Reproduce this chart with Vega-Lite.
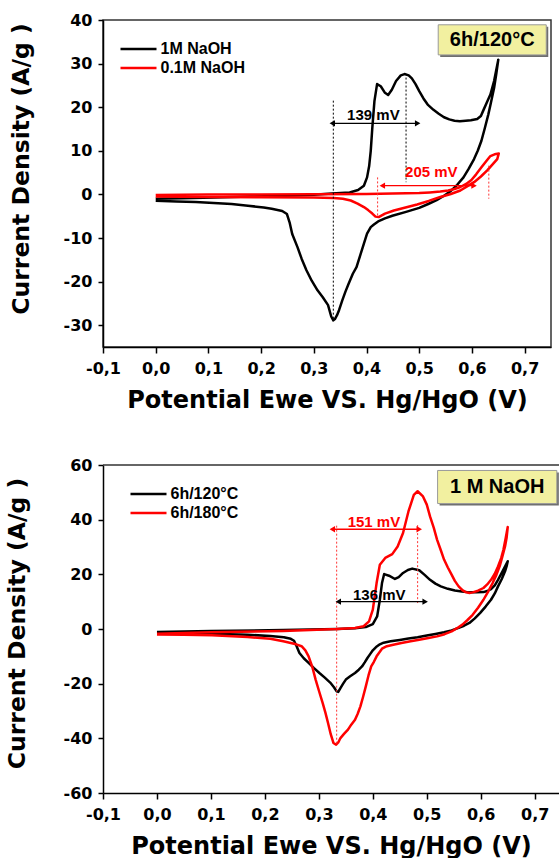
{
  "$schema": "https://vega.github.io/schema/vega-lite/v6.json",
  "background": "white",
  "padding": {"left": 5, "top": 11, "right": 0, "bottom": 0},
  "spacing": 44,
  "config": {
    "axis": {
      "labelFont": "DejaVu Sans", "labelFontWeight": "bold", "labelFontSize": 16, "labelColor": "#000",
      "titleFont": "DejaVu Sans", "titleFontWeight": "bold", "titleFontSize": 24, "titleColor": "#000",
      "domainColor": "#000", "domainWidth": 1.5, "tickColor": "#000", "tickWidth": 1.5,
      "grid": false, "labelOverlap": false, "labelFlush": false
    },
    "legend": {
      "orient": "none", "title": null, "symbolType": "M-4,0H4", "symbolSize": 81, "symbolStrokeWidth": 2.5,
      "labelFont": "Liberation Sans", "labelFontWeight": "bold", "labelFontSize": 16, "labelColor": "#000",
      "labelOffset": 14, "rowPadding": 3, "padding": 0
    },
    "view": {"stroke": "#333", "strokeWidth": 1.5}
  },
  "datasets": {
    "top": [
      {"s":"1M NaOH","x":0,"y":-1.0},{"s":"1M NaOH","x":0.05,"y":-0.9},{"s":"1M NaOH","x":0.11,"y":-0.7},{"s":"1M NaOH","x":0.18,"y":-0.5},{"s":"1M NaOH","x":0.246,"y":-0.3},{"s":"1M NaOH","x":0.30,"y":-0.1},{"s":"1M NaOH","x":0.334,"y":0.2},{"s":"1M NaOH","x":0.368,"y":0.45},{"s":"1M NaOH","x":0.384,"y":1.0},{"s":"1M NaOH","x":0.395,"y":2.0},{"s":"1M NaOH","x":0.401,"y":3.9},{"s":"1M NaOH","x":0.405,"y":6.5},{"s":"1M NaOH","x":0.408,"y":10},{"s":"1M NaOH","x":0.411,"y":15.3},{"s":"1M NaOH","x":0.415,"y":21.4},{"s":"1M NaOH","x":0.420,"y":25.3},{"s":"1M NaOH","x":0.427,"y":24.8},{"s":"1M NaOH","x":0.435,"y":23.3},{"s":"1M NaOH","x":0.441,"y":22.8},{"s":"1M NaOH","x":0.448,"y":24.0},{"s":"1M NaOH","x":0.456,"y":26.0},{"s":"1M NaOH","x":0.465,"y":27.3},{"s":"1M NaOH","x":0.472,"y":27.6},{"s":"1M NaOH","x":0.480,"y":27.3},{"s":"1M NaOH","x":0.486,"y":26.6},{"s":"1M NaOH","x":0.493,"y":25.3},{"s":"1M NaOH","x":0.500,"y":23.7},{"s":"1M NaOH","x":0.508,"y":22.0},{"s":"1M NaOH","x":0.516,"y":20.6},{"s":"1M NaOH","x":0.527,"y":19.4},{"s":"1M NaOH","x":0.537,"y":18.5},{"s":"1M NaOH","x":0.547,"y":17.7},{"s":"1M NaOH","x":0.557,"y":17.2},{"s":"1M NaOH","x":0.567,"y":16.9},{"s":"1M NaOH","x":0.577,"y":16.8},{"s":"1M NaOH","x":0.588,"y":16.9},{"s":"1M NaOH","x":0.598,"y":17.0},{"s":"1M NaOH","x":0.610,"y":17.3},{"s":"1M NaOH","x":0.617,"y":18.0},{"s":"1M NaOH","x":0.621,"y":19.1},{"s":"1M NaOH","x":0.628,"y":21.0},{"s":"1M NaOH","x":0.635,"y":22.9},{"s":"1M NaOH","x":0.642,"y":26.0},{"s":"1M NaOH","x":0.650,"y":30.9},
      {"s":"1M NaOH","x":0.646,"y":27.5},{"s":"1M NaOH","x":0.642,"y":24.4},{"s":"1M NaOH","x":0.636,"y":21.0},{"s":"1M NaOH","x":0.631,"y":18.3},{"s":"1M NaOH","x":0.624,"y":15.0},{"s":"1M NaOH","x":0.618,"y":12.3},{"s":"1M NaOH","x":0.611,"y":10.0},{"s":"1M NaOH","x":0.604,"y":8.1},{"s":"1M NaOH","x":0.594,"y":5.9},{"s":"1M NaOH","x":0.584,"y":3.9},{"s":"1M NaOH","x":0.572,"y":2.2},{"s":"1M NaOH","x":0.560,"y":0.8},{"s":"1M NaOH","x":0.547,"y":-0.3},{"s":"1M NaOH","x":0.533,"y":-1.3},{"s":"1M NaOH","x":0.517,"y":-2.2},{"s":"1M NaOH","x":0.500,"y":-3.1},{"s":"1M NaOH","x":0.475,"y":-4.0},{"s":"1M NaOH","x":0.449,"y":-4.9},{"s":"1M NaOH","x":0.435,"y":-5.5},{"s":"1M NaOH","x":0.422,"y":-6.2},{"s":"1M NaOH","x":0.414,"y":-6.9},{"s":"1M NaOH","x":0.408,"y":-7.5},{"s":"1M NaOH","x":0.401,"y":-9.0},{"s":"1M NaOH","x":0.395,"y":-11.3},{"s":"1M NaOH","x":0.388,"y":-14.0},{"s":"1M NaOH","x":0.381,"y":-16.7},{"s":"1M NaOH","x":0.374,"y":-18.2},{"s":"1M NaOH","x":0.366,"y":-20.5},{"s":"1M NaOH","x":0.360,"y":-22.3},{"s":"1M NaOH","x":0.354,"y":-24.3},{"s":"1M NaOH","x":0.348,"y":-26.5},{"s":"1M NaOH","x":0.344,"y":-27.7},{"s":"1M NaOH","x":0.340,"y":-28.6},{"s":"1M NaOH","x":0.337,"y":-28.9},{"s":"1M NaOH","x":0.333,"y":-28.0},{"s":"1M NaOH","x":0.327,"y":-25.4},{"s":"1M NaOH","x":0.317,"y":-23.6},{"s":"1M NaOH","x":0.307,"y":-22.0},{"s":"1M NaOH","x":0.296,"y":-19.8},{"s":"1M NaOH","x":0.286,"y":-17.4},{"s":"1M NaOH","x":0.277,"y":-14.8},{"s":"1M NaOH","x":0.269,"y":-12.1},{"s":"1M NaOH","x":0.259,"y":-9.1},{"s":"1M NaOH","x":0.254,"y":-6.4},{"s":"1M NaOH","x":0.249,"y":-4.5},{"s":"1M NaOH","x":0.240,"y":-3.8},{"s":"1M NaOH","x":0.220,"y":-3.3},{"s":"1M NaOH","x":0.205,"y":-3.0},{"s":"1M NaOH","x":0.175,"y":-2.6},{"s":"1M NaOH","x":0.144,"y":-2.2},{"s":"1M NaOH","x":0.110,"y":-1.95},{"s":"1M NaOH","x":0.076,"y":-1.75},{"s":"1M NaOH","x":0.040,"y":-1.6},{"s":"1M NaOH","x":0,"y":-1.45},
      {"s":"0.1M NaOH","x":0,"y":-0.15},{"s":"0.1M NaOH","x":0.1,"y":-0.05},{"s":"0.1M NaOH","x":0.2,"y":0.0},{"s":"0.1M NaOH","x":0.3,"y":0.05},{"s":"0.1M NaOH","x":0.4,"y":0.1},{"s":"0.1M NaOH","x":0.45,"y":0.2},{"s":"0.1M NaOH","x":0.5,"y":0.3},{"s":"0.1M NaOH","x":0.52,"y":0.45},{"s":"0.1M NaOH","x":0.54,"y":0.65},{"s":"0.1M NaOH","x":0.555,"y":0.9},{"s":"0.1M NaOH","x":0.567,"y":1.25},{"s":"0.1M NaOH","x":0.578,"y":1.7},{"s":"0.1M NaOH","x":0.589,"y":2.4},{"s":"0.1M NaOH","x":0.599,"y":3.3},{"s":"0.1M NaOH","x":0.608,"y":4.6},{"s":"0.1M NaOH","x":0.618,"y":6.2},{"s":"0.1M NaOH","x":0.627,"y":7.6},{"s":"0.1M NaOH","x":0.635,"y":8.8},{"s":"0.1M NaOH","x":0.643,"y":9.2},{"s":"0.1M NaOH","x":0.651,"y":9.4},
      {"s":"0.1M NaOH","x":0.648,"y":8.1},{"s":"0.1M NaOH","x":0.640,"y":7.0},{"s":"0.1M NaOH","x":0.629,"y":5.5},{"s":"0.1M NaOH","x":0.617,"y":4.1},{"s":"0.1M NaOH","x":0.604,"y":2.8},{"s":"0.1M NaOH","x":0.590,"y":1.8},{"s":"0.1M NaOH","x":0.578,"y":0.9},{"s":"0.1M NaOH","x":0.560,"y":0.1},{"s":"0.1M NaOH","x":0.540,"y":-0.6},{"s":"0.1M NaOH","x":0.518,"y":-1.5},{"s":"0.1M NaOH","x":0.496,"y":-2.3},{"s":"0.1M NaOH","x":0.474,"y":-3.0},{"s":"0.1M NaOH","x":0.452,"y":-3.7},{"s":"0.1M NaOH","x":0.435,"y":-4.4},{"s":"0.1M NaOH","x":0.423,"y":-5.2},{"s":"0.1M NaOH","x":0.417,"y":-5.1},{"s":"0.1M NaOH","x":0.411,"y":-4.4},{"s":"0.1M NaOH","x":0.403,"y":-3.6},{"s":"0.1M NaOH","x":0.395,"y":-2.9},{"s":"0.1M NaOH","x":0.383,"y":-2.1},{"s":"0.1M NaOH","x":0.370,"y":-1.4},{"s":"0.1M NaOH","x":0.355,"y":-1.0},{"s":"0.1M NaOH","x":0.338,"y":-0.8},{"s":"0.1M NaOH","x":0.30,"y":-0.7},{"s":"0.1M NaOH","x":0.2,"y":-0.65},{"s":"0.1M NaOH","x":0.1,"y":-0.6},{"s":"0.1M NaOH","x":0,"y":-0.5}
    ],
    "bot": [
      {"s":"6h/120°C","x":0,"y":-1.1},{"s":"6h/120°C","x":0.1,"y":-0.7},{"s":"6h/120°C","x":0.234,"y":-0.4},{"s":"6h/120°C","x":0.334,"y":0},{"s":"6h/120°C","x":0.367,"y":0.25},{"s":"6h/120°C","x":0.387,"y":0.7},{"s":"6h/120°C","x":0.400,"y":1.8},{"s":"6h/120°C","x":0.408,"y":4.6},{"s":"6h/120°C","x":0.413,"y":10.7},{"s":"6h/120°C","x":0.417,"y":16.8},{"s":"6h/120°C","x":0.421,"y":20.1},{"s":"6h/120°C","x":0.430,"y":19.5},{"s":"6h/120°C","x":0.441,"y":18.3},{"s":"6h/120°C","x":0.448,"y":19.0},{"s":"6h/120°C","x":0.456,"y":20.5},{"s":"6h/120°C","x":0.465,"y":21.6},{"s":"6h/120°C","x":0.473,"y":22.1},{"s":"6h/120°C","x":0.486,"y":21.5},{"s":"6h/120°C","x":0.496,"y":19.8},{"s":"6h/120°C","x":0.506,"y":18.0},{"s":"6h/120°C","x":0.516,"y":16.6},{"s":"6h/120°C","x":0.526,"y":15.6},{"s":"6h/120°C","x":0.539,"y":14.7},{"s":"6h/120°C","x":0.552,"y":14.1},{"s":"6h/120°C","x":0.565,"y":13.7},{"s":"6h/120°C","x":0.579,"y":13.4},{"s":"6h/120°C","x":0.592,"y":13.4},{"s":"6h/120°C","x":0.605,"y":13.5},{"s":"6h/120°C","x":0.612,"y":13.9},{"s":"6h/120°C","x":0.619,"y":14.6},{"s":"6h/120°C","x":0.626,"y":16.0},{"s":"6h/120°C","x":0.632,"y":18.0},{"s":"6h/120°C","x":0.642,"y":21.7},{"s":"6h/120°C","x":0.650,"y":24.8},
      {"s":"6h/120°C","x":0.648,"y":23.0},{"s":"6h/120°C","x":0.645,"y":21.1},{"s":"6h/120°C","x":0.639,"y":18.3},{"s":"6h/120°C","x":0.632,"y":15.6},{"s":"6h/120°C","x":0.626,"y":13.0},{"s":"6h/120°C","x":0.619,"y":10.7},{"s":"6h/120°C","x":0.609,"y":8.2},{"s":"6h/120°C","x":0.599,"y":5.9},{"s":"6h/120°C","x":0.589,"y":3.9},{"s":"6h/120°C","x":0.579,"y":2.2},{"s":"6h/120°C","x":0.569,"y":1.2},{"s":"6h/120°C","x":0.559,"y":0.4},{"s":"6h/120°C","x":0.546,"y":-0.5},{"s":"6h/120°C","x":0.532,"y":-1.2},{"s":"6h/120°C","x":0.516,"y":-1.8},{"s":"6h/120°C","x":0.500,"y":-2.4},{"s":"6h/120°C","x":0.483,"y":-3.0},{"s":"6h/120°C","x":0.466,"y":-3.5},{"s":"6h/120°C","x":0.450,"y":-4.0},{"s":"6h/120°C","x":0.433,"y":-4.5},{"s":"6h/120°C","x":0.420,"y":-5.0},{"s":"6h/120°C","x":0.413,"y":-5.6},{"s":"6h/120°C","x":0.406,"y":-6.6},{"s":"6h/120°C","x":0.400,"y":-7.8},{"s":"6h/120°C","x":0.395,"y":-9.2},{"s":"6h/120°C","x":0.390,"y":-10.6},{"s":"6h/120°C","x":0.385,"y":-12.2},{"s":"6h/120°C","x":0.380,"y":-13.7},{"s":"6h/120°C","x":0.374,"y":-14.9},{"s":"6h/120°C","x":0.367,"y":-16.1},{"s":"6h/120°C","x":0.358,"y":-17.3},{"s":"6h/120°C","x":0.350,"y":-18.5},{"s":"6h/120°C","x":0.345,"y":-20.0},{"s":"6h/120°C","x":0.340,"y":-21.6},{"s":"6h/120°C","x":0.336,"y":-23.0},{"s":"6h/120°C","x":0.333,"y":-22.8},{"s":"6h/120°C","x":0.328,"y":-21.3},{"s":"6h/120°C","x":0.321,"y":-19.6},{"s":"6h/120°C","x":0.311,"y":-17.8},{"s":"6h/120°C","x":0.301,"y":-16.1},{"s":"6h/120°C","x":0.291,"y":-14.3},{"s":"6h/120°C","x":0.281,"y":-12.4},{"s":"6h/120°C","x":0.272,"y":-10.7},{"s":"6h/120°C","x":0.264,"y":-8.8},{"s":"6h/120°C","x":0.259,"y":-6.4},{"s":"6h/120°C","x":0.254,"y":-4.3},{"s":"6h/120°C","x":0.248,"y":-3.6},{"s":"6h/120°C","x":0.235,"y":-3.0},{"s":"6h/120°C","x":0.210,"y":-2.6},{"s":"6h/120°C","x":0.168,"y":-2.1},{"s":"6h/120°C","x":0.102,"y":-1.7},{"s":"6h/120°C","x":0.05,"y":-1.45},{"s":"6h/120°C","x":0,"y":-1.2},
      {"s":"6h/180°C","x":0,"y":-1.7},{"s":"6h/180°C","x":0.1,"y":-1.2},{"s":"6h/180°C","x":0.234,"y":-0.7},{"s":"6h/180°C","x":0.334,"y":0},{"s":"6h/180°C","x":0.367,"y":0.4},{"s":"6h/180°C","x":0.383,"y":1.0},{"s":"6h/180°C","x":0.393,"y":2.8},{"s":"6h/180°C","x":0.400,"y":7.1},{"s":"6h/180°C","x":0.407,"y":16.8},{"s":"6h/180°C","x":0.413,"y":23.5},{"s":"6h/180°C","x":0.423,"y":26.0},{"s":"6h/180°C","x":0.436,"y":27.4},{"s":"6h/180°C","x":0.446,"y":30.2},{"s":"6h/180°C","x":0.456,"y":35.1},{"s":"6h/180°C","x":0.466,"y":43.0},{"s":"6h/180°C","x":0.476,"y":49.1},{"s":"6h/180°C","x":0.483,"y":50.4},{"s":"6h/180°C","x":0.493,"y":48.5},{"s":"6h/180°C","x":0.500,"y":45.5},{"s":"6h/180°C","x":0.506,"y":41.2},{"s":"6h/180°C","x":0.513,"y":37.0},{"s":"6h/180°C","x":0.519,"y":32.7},{"s":"6h/180°C","x":0.526,"y":28.8},{"s":"6h/180°C","x":0.532,"y":25.4},{"s":"6h/180°C","x":0.539,"y":22.5},{"s":"6h/180°C","x":0.546,"y":19.9},{"s":"6h/180°C","x":0.552,"y":17.6},{"s":"6h/180°C","x":0.559,"y":15.6},{"s":"6h/180°C","x":0.566,"y":14.2},{"s":"6h/180°C","x":0.572,"y":13.5},{"s":"6h/180°C","x":0.579,"y":13.2},{"s":"6h/180°C","x":0.585,"y":13.4},{"s":"6h/180°C","x":0.595,"y":14.0},{"s":"6h/180°C","x":0.605,"y":15.0},{"s":"6h/180°C","x":0.612,"y":16.3},{"s":"6h/180°C","x":0.619,"y":18.0},{"s":"6h/180°C","x":0.626,"y":20.2},{"s":"6h/180°C","x":0.632,"y":22.9},{"s":"6h/180°C","x":0.638,"y":26.0},{"s":"6h/180°C","x":0.642,"y":29.0},{"s":"6h/180°C","x":0.646,"y":33.0},{"s":"6h/180°C","x":0.650,"y":37.3},
      {"s":"6h/180°C","x":0.648,"y":33.5},{"s":"6h/180°C","x":0.645,"y":30.2},{"s":"6h/180°C","x":0.640,"y":26.5},{"s":"6h/180°C","x":0.635,"y":22.9},{"s":"6h/180°C","x":0.629,"y":19.8},{"s":"6h/180°C","x":0.622,"y":16.8},{"s":"6h/180°C","x":0.614,"y":13.8},{"s":"6h/180°C","x":0.605,"y":10.7},{"s":"6h/180°C","x":0.595,"y":7.8},{"s":"6h/180°C","x":0.585,"y":5.2},{"s":"6h/180°C","x":0.575,"y":3.2},{"s":"6h/180°C","x":0.566,"y":1.6},{"s":"6h/180°C","x":0.556,"y":0.3},{"s":"6h/180°C","x":0.546,"y":-0.9},{"s":"6h/180°C","x":0.533,"y":-1.9},{"s":"6h/180°C","x":0.519,"y":-2.7},{"s":"6h/180°C","x":0.503,"y":-3.3},{"s":"6h/180°C","x":0.486,"y":-3.9},{"s":"6h/180°C","x":0.470,"y":-4.5},{"s":"6h/180°C","x":0.453,"y":-5.1},{"s":"6h/180°C","x":0.440,"y":-5.7},{"s":"6h/180°C","x":0.426,"y":-6.3},{"s":"6h/180°C","x":0.417,"y":-7.2},{"s":"6h/180°C","x":0.407,"y":-10.0},{"s":"6h/180°C","x":0.402,"y":-12.0},{"s":"6h/180°C","x":0.397,"y":-13.7},{"s":"6h/180°C","x":0.392,"y":-17.0},{"s":"6h/180°C","x":0.387,"y":-21.0},{"s":"6h/180°C","x":0.382,"y":-24.8},{"s":"6h/180°C","x":0.377,"y":-28.3},{"s":"6h/180°C","x":0.372,"y":-31.0},{"s":"6h/180°C","x":0.367,"y":-33.2},{"s":"6h/180°C","x":0.360,"y":-35.0},{"s":"6h/180°C","x":0.354,"y":-36.8},{"s":"6h/180°C","x":0.347,"y":-38.3},{"s":"6h/180°C","x":0.340,"y":-39.9},{"s":"6h/180°C","x":0.336,"y":-41.5},{"s":"6h/180°C","x":0.332,"y":-42.3},{"s":"6h/180°C","x":0.327,"y":-41.7},{"s":"6h/180°C","x":0.322,"y":-38.5},{"s":"6h/180°C","x":0.317,"y":-34.4},{"s":"6h/180°C","x":0.312,"y":-30.5},{"s":"6h/180°C","x":0.307,"y":-27.0},{"s":"6h/180°C","x":0.300,"y":-22.5},{"s":"6h/180°C","x":0.294,"y":-18.5},{"s":"6h/180°C","x":0.288,"y":-14.0},{"s":"6h/180°C","x":0.281,"y":-10.0},{"s":"6h/180°C","x":0.275,"y":-7.8},{"s":"6h/180°C","x":0.268,"y":-6.3},{"s":"6h/180°C","x":0.258,"y":-5.6},{"s":"6h/180°C","x":0.246,"y":-5.0},{"s":"6h/180°C","x":0.234,"y":-4.5},{"s":"6h/180°C","x":0.210,"y":-3.6},{"s":"6h/180°C","x":0.168,"y":-2.9},{"s":"6h/180°C","x":0.102,"y":-2.3},{"s":"6h/180°C","x":0.05,"y":-2.1},{"s":"6h/180°C","x":0,"y":-2.0}
    ],
    "topDots": [
      {"x":0.337,"y1":21.5,"y2":-29,"c":"#000000"},
      {"x":0.475,"y1":26.8,"y2":2.8,"c":"#000000"},
      {"x":0.421,"y1":3.9,"y2":-5.2,"c":"#ff3333"},
      {"x":0.632,"y1":6.6,"y2":-1.0,"c":"#ff3333"}
    ],
    "topArrows": [
      {"x1":0.335,"x2":0.497,"y":16.3,"c":"#000000"},
      {"x1":0.430,"x2":0.604,"y":2.0,"c":"#ff0000"}
    ],
    "topText": [
      {"x":0.413,"y":18.2,"t":"139 mV","c":"#000000"},
      {"x":0.523,"y":5.1,"t":"205 mV","c":"#ff0000"}
    ],
    "topBox": [{"x1":0.536,"x2":0.741,"y1":38.9,"y2":32.0,"t":"6h/120°C"}],
    "botDots": [
      {"x":0.333,"y1":37.8,"y2":-42.7,"c":"#ff3333"},
      {"x":0.483,"y1":38.0,"y2":9.5,"c":"#ff3333"}
    ],
    "botArrows": [
      {"x1":0.325,"x2":0.486,"y":36.5,"c":"#ff0000"},
      {"x1":0.336,"x2":0.497,"y":10.0,"c":"#000000"}
    ],
    "botText": [
      {"x":0.402,"y":39.3,"t":"151 mV","c":"#ff0000"},
      {"x":0.412,"y":12.5,"t":"136 mV","c":"#000000"}
    ],
    "botBox": [{"x1":0.520,"x2":0.741,"y1":58.0,"y2":45.9,"t":"1 M NaOH"}]
  },
  "resolve": {"scale": {"x": "independent", "y": "independent", "color": "independent"}},
  "vconcat": [
    {
      "width": 448,
      "height": 327,
      "layer": [
        {
          "data": {"name": "top"},
          "mark": {"type": "line", "strokeWidth": 2.5, "strokeJoin": "round", "clip": true},
          "encoding": {
            "x": {"field": "x", "type": "quantitative", "title": "Potential Ewe VS. Hg/HgO (V)",
              "scale": {"domain": [-0.1, 0.75], "nice": false, "zero": false},
              "axis": {
                "values": [-0.1,-0.05,0,0.05,0.1,0.15,0.2,0.25,0.3,0.35,0.4,0.45,0.5,0.55,0.6,0.65,0.7,0.75],
                "labelExpr": "round(datum.value*20)%2==0 ? (datum.value < -0.001 ? '-' : '') + replace(format(abs(datum.value),'.1f'),'.',',') : ''",
                "tickSize": {"condition": {"test": "round(datum.value*20)%2==0", "value": 6}, "value": 3},
                "labelPadding": 7, "titlePadding": 12
              }},
            "y": {"field": "y", "type": "quantitative", "title": "Current Density (A/g )",
              "scale": {"domain": [-35, 40], "nice": false, "zero": false},
              "axis": {
                "values": [-30,-25,-20,-15,-10,-5,0,5,10,15,20,25,30,35,40],
                "labelExpr": "datum.value % 10 == 0 ? (datum.value < 0 ? '-' : '') + abs(datum.value) : ''",
                "tickSize": {"condition": {"test": "datum.value % 10 == 0", "value": 5}, "value": 3},
                "labelPadding": 6, "titleFontSize": 23.5, "titleY": 148.5, "titlePadding": 30
              }},
            "color": {"field": "s", "type": "nominal",
              "scale": {"domain": ["1M NaOH", "0.1M NaOH"], "range": ["#000000", "#ff0000"]},
              "legend": {"legendX": 27.5, "legendY": 21}},
            "order": {"value": null}
          }
        },
        {
          "data": {"name": "topDots"},
          "mark": {"type": "rule", "strokeWidth": 1, "strokeDash": [2, 2]},
          "encoding": {
            "x": {"field": "x", "type": "quantitative"},
            "y": {"field": "y1", "type": "quantitative"},
            "y2": {"field": "y2"},
            "color": {"field": "c", "type": "nominal", "scale": null}
          }
        },
        {
          "data": {"name": "topArrows"},
          "mark": {"type": "rule", "strokeWidth": 1.3},
          "encoding": {
            "x": {"field": "x1", "type": "quantitative"},
            "x2": {"field": "x2"},
            "y": {"field": "y", "type": "quantitative"},
            "color": {"field": "c", "type": "nominal", "scale": null}
          }
        },
        {
          "data": {"name": "topArrows"},
          "mark": {"type": "point", "shape": "triangle-left", "filled": true, "size": 40, "opacity": 1},
          "encoding": {
            "x": {"field": "x1", "type": "quantitative"},
            "y": {"field": "y", "type": "quantitative"},
            "color": {"field": "c", "type": "nominal", "scale": null}
          }
        },
        {
          "data": {"name": "topArrows"},
          "mark": {"type": "point", "shape": "triangle-right", "filled": true, "size": 40, "opacity": 1},
          "encoding": {
            "x": {"field": "x2", "type": "quantitative"},
            "y": {"field": "y", "type": "quantitative"},
            "color": {"field": "c", "type": "nominal", "scale": null}
          }
        },
        {
          "data": {"name": "topText"},
          "mark": {"type": "text", "font": "Liberation Sans", "fontWeight": "bold", "fontSize": 15, "align": "center", "baseline": "middle"},
          "encoding": {
            "x": {"field": "x", "type": "quantitative"},
            "y": {"field": "y", "type": "quantitative"},
            "text": {"field": "t"},
            "color": {"field": "c", "type": "nominal", "scale": null}
          }
        },
        {
          "data": {"name": "topBox"},
          "mark": {"type": "rect", "fill": "#6f6f6f", "xOffset": 2, "x2Offset": 2, "yOffset": 2, "y2Offset": 2},
          "encoding": {
            "x": {"field": "x1", "type": "quantitative"}, "x2": {"field": "x2"},
            "y": {"field": "y1", "type": "quantitative"}, "y2": {"field": "y2"}
          }
        },
        {
          "data": {"name": "topBox"},
          "mark": {"type": "rect", "fill": "#f2f0a0", "stroke": "#9a9a9a", "strokeWidth": 1},
          "encoding": {
            "x": {"field": "x1", "type": "quantitative"}, "x2": {"field": "x2"},
            "y": {"field": "y1", "type": "quantitative"}, "y2": {"field": "y2"}
          }
        },
        {
          "data": {"name": "topBox"},
          "transform": [{"calculate": "(datum.x1+datum.x2)/2", "as": "xc"}, {"calculate": "(datum.y1+datum.y2)/2", "as": "yc"}],
          "mark": {"type": "text", "font": "Liberation Sans", "fontWeight": "bold", "fontSize": 20, "align": "center", "baseline": "middle", "color": "#000"},
          "encoding": {
            "x": {"field": "xc", "type": "quantitative"},
            "y": {"field": "yc", "type": "quantitative"},
            "text": {"field": "t"}
          }
        }
      ]
    },
    {
      "width": 456,
      "height": 328,
      "view": {"stroke": null},
      "layer": [
        {
          "data": {"name": "bot"},
          "mark": {"type": "line", "strokeWidth": 2.5, "strokeJoin": "round", "clip": true},
          "encoding": {
            "x": {"field": "x", "type": "quantitative", "title": "Potential Ewe VS. Hg/HgO (V)",
              "scale": {"domain": [-0.1, 0.745], "nice": false, "zero": false},
              "axis": {
                "values": [-0.1,-0.05,0,0.05,0.1,0.15,0.2,0.25,0.3,0.35,0.4,0.45,0.5,0.55,0.6,0.65,0.7],
                "labelExpr": "round(datum.value*20)%2==0 ? (datum.value < -0.001 ? '-' : '') + replace(format(abs(datum.value),'.1f'),'.',',') : ''",
                "tickSize": {"condition": {"test": "round(datum.value*20)%2==0", "value": 6}, "value": 3},
                "labelPadding": 7, "titlePadding": 12
              }},
            "y": {"field": "y", "type": "quantitative", "title": "Current Density (A/g )",
              "scale": {"domain": [-60, 60], "nice": false, "zero": false},
              "axis": {
                "values": [-60,-50,-40,-30,-20,-10,0,10,20,30,40,50,60],
                "labelExpr": "datum.value % 20 == 0 ? (datum.value < 0 ? '-' : '') + abs(datum.value) : ''",
                "tickSize": {"condition": {"test": "datum.value % 20 == 0", "value": 5}, "value": 3},
                "labelPadding": 6, "titleFontSize": 23.5, "titleY": 158, "titlePadding": 34
              }},
            "color": {"field": "s", "type": "nominal",
              "scale": {"domain": ["6h/120°C", "6h/180°C"], "range": ["#000000", "#ff0000"]},
              "legend": {"legendX": 37.5, "legendY": 21}},
            "order": {"value": null}
          }
        },
        {
          "data": {"values": [{"x1": -0.1, "x2": 0.745, "y": 60}]},
          "mark": {"type": "rule", "color": "#333", "strokeWidth": 1.5},
          "encoding": {
            "x": {"field": "x1", "type": "quantitative"}, "x2": {"field": "x2"},
            "y": {"field": "y", "type": "quantitative"}
          }
        },
        {
          "data": {"name": "botDots"},
          "mark": {"type": "rule", "strokeWidth": 1, "strokeDash": [2, 2]},
          "encoding": {
            "x": {"field": "x", "type": "quantitative"},
            "y": {"field": "y1", "type": "quantitative"},
            "y2": {"field": "y2"},
            "color": {"field": "c", "type": "nominal", "scale": null}
          }
        },
        {
          "data": {"name": "botArrows"},
          "mark": {"type": "rule", "strokeWidth": 1.3},
          "encoding": {
            "x": {"field": "x1", "type": "quantitative"},
            "x2": {"field": "x2"},
            "y": {"field": "y", "type": "quantitative"},
            "color": {"field": "c", "type": "nominal", "scale": null}
          }
        },
        {
          "data": {"name": "botArrows"},
          "mark": {"type": "point", "shape": "triangle-left", "filled": true, "size": 40, "opacity": 1},
          "encoding": {
            "x": {"field": "x1", "type": "quantitative"},
            "y": {"field": "y", "type": "quantitative"},
            "color": {"field": "c", "type": "nominal", "scale": null}
          }
        },
        {
          "data": {"name": "botArrows"},
          "mark": {"type": "point", "shape": "triangle-right", "filled": true, "size": 40, "opacity": 1},
          "encoding": {
            "x": {"field": "x2", "type": "quantitative"},
            "y": {"field": "y", "type": "quantitative"},
            "color": {"field": "c", "type": "nominal", "scale": null}
          }
        },
        {
          "data": {"name": "botText"},
          "mark": {"type": "text", "font": "Liberation Sans", "fontWeight": "bold", "fontSize": 15, "align": "center", "baseline": "middle"},
          "encoding": {
            "x": {"field": "x", "type": "quantitative"},
            "y": {"field": "y", "type": "quantitative"},
            "text": {"field": "t"},
            "color": {"field": "c", "type": "nominal", "scale": null}
          }
        },
        {
          "data": {"name": "botBox"},
          "mark": {"type": "rect", "fill": "#6f6f6f", "xOffset": 2, "x2Offset": 2, "yOffset": 2, "y2Offset": 2},
          "encoding": {
            "x": {"field": "x1", "type": "quantitative"}, "x2": {"field": "x2"},
            "y": {"field": "y1", "type": "quantitative"}, "y2": {"field": "y2"}
          }
        },
        {
          "data": {"name": "botBox"},
          "mark": {"type": "rect", "fill": "#f2f0a0", "stroke": "#9a9a9a", "strokeWidth": 1},
          "encoding": {
            "x": {"field": "x1", "type": "quantitative"}, "x2": {"field": "x2"},
            "y": {"field": "y1", "type": "quantitative"}, "y2": {"field": "y2"}
          }
        },
        {
          "data": {"name": "botBox"},
          "transform": [{"calculate": "(datum.x1+datum.x2)/2", "as": "xc"}, {"calculate": "(datum.y1+datum.y2)/2", "as": "yc"}],
          "mark": {"type": "text", "font": "Liberation Sans", "fontWeight": "bold", "fontSize": 20, "align": "center", "baseline": "middle", "color": "#000"},
          "encoding": {
            "x": {"field": "xc", "type": "quantitative"},
            "y": {"field": "yc", "type": "quantitative"},
            "text": {"field": "t"}
          }
        }
      ]
    }
  ]
}
